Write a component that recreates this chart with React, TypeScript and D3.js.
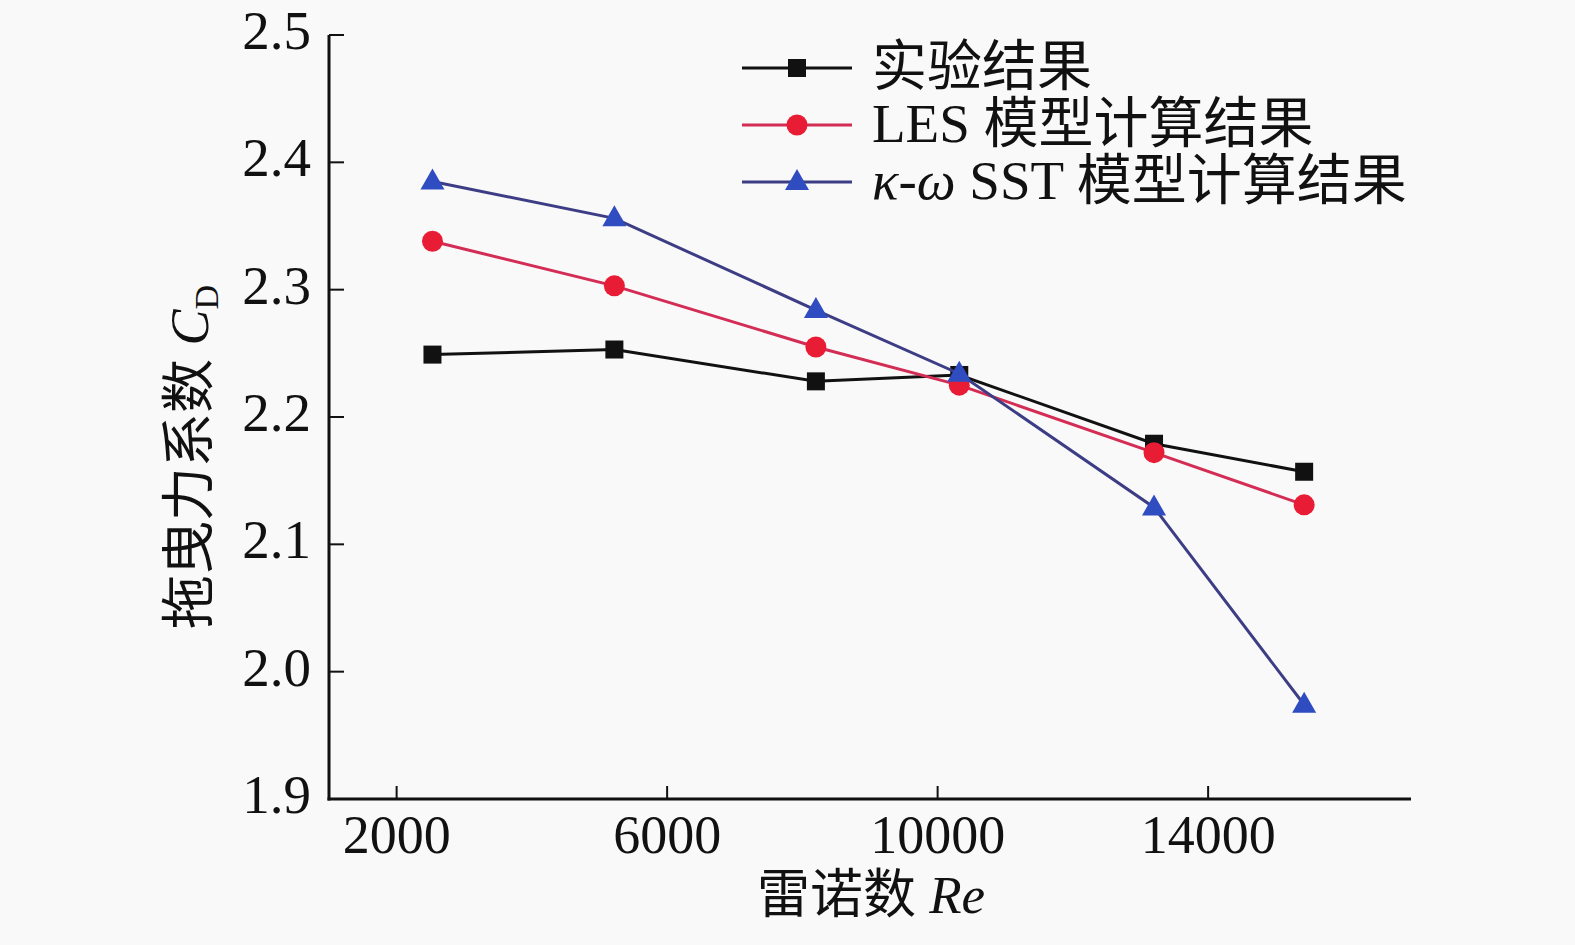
import { line, scaleLinear } from 'd3'

const reynolds = [2530, 5220, 8200, 10320, 13200, 15420]
const experiment = [2.249, 2.253, 2.228, 2.233, 2.179, 2.157]
const les = [2.338, 2.303, 2.255, 2.225, 2.172, 2.131]
const kOmegaSst = [2.385, 2.356, 2.284, 2.234, 2.129, 1.974]

const xTicks = [2000, 6000, 10000, 14000]
const yTicks = [1.9, 2.0, 2.1, 2.2, 2.3, 2.4, 2.5]

const WIDTH = 1575
const HEIGHT = 945
const margin = { left: 329, right: 164, top: 35, bottom: 146 }
const serif = '"Times New Roman", "Liberation Serif", "Noto Sans CJK SC", serif'

const x = scaleLinear()
  .domain([1000, 17000])
  .range([margin.left, WIDTH - margin.right])
const y = scaleLinear()
  .domain([1.9, 2.5])
  .range([HEIGHT - margin.bottom, margin.top])

type Marker = 'square' | 'circle' | 'triangle'

interface Series {
  name: React.ReactNode
  values: number[]
  stroke: string
  fill: string
  marker: Marker
}

const series: Series[] = [
  { name: '实验结果', values: experiment, stroke: '#111111', fill: '#111111', marker: 'square' },
  { name: 'LES 模型计算结果', values: les, stroke: '#d42d55', fill: '#e81c34', marker: 'circle' },
  {
    name: (
      <>
        <tspan fontStyle="italic">κ-ω</tspan> SST 模型计算结果
      </>
    ),
    values: kOmegaSst,
    stroke: '#3d3d86',
    fill: '#2f4cc0',
    marker: 'triangle',
  },
]

function MarkerShape({ kind, cx, cy, fill }: { kind: Marker; cx: number; cy: number; fill: string }) {
  if (kind === 'square') {
    return <rect x={cx - 9} y={cy - 9} width={18} height={18} fill={fill} />
  }
  if (kind === 'circle') {
    return <circle cx={cx} cy={cy} r={10.5} fill={fill} />
  }
  return <path d={`M${cx},${cy - 13} L${cx + 12},${cy + 8} L${cx - 12},${cy + 8} Z`} fill={fill} />
}

export default function App() {
  const path = line<number>()
    .x((_, i) => x(reynolds[i]))
    .y(d => y(d))

  const x0 = margin.left
  const y0 = HEIGHT - margin.bottom

  return (
    <svg
      width={WIDTH}
      height={HEIGHT}
      style={{ position: 'absolute', left: 0, top: 0, background: '#f9f9f9' }}
      fontFamily={serif}
    >
      {/* axes */}
      <line x1={x0} x2={x0} y1={margin.top} y2={y0 + 1.5} stroke="#111" strokeWidth={3} />
      <line x1={x0 - 1.5} x2={WIDTH - margin.right} y1={y0} y2={y0} stroke="#111" strokeWidth={3} />
      {yTicks.map(t => (
        <g key={t}>
          <line x1={x0} x2={x0 + 15} y1={y(t)} y2={y(t)} stroke="#111" strokeWidth={2} />
          <text x={x0 - 18} y={y(t) + 14} textAnchor="end" fontSize={55} fill="#111">
            {t.toFixed(1)}
          </text>
        </g>
      ))}
      {xTicks.map(t => (
        <g key={t}>
          <line x1={x(t)} x2={x(t)} y1={y0} y2={y0 - 13} stroke="#111" strokeWidth={2} />
          <text x={x(t)} y={y0 + 54} textAnchor="middle" fontSize={54} fill="#111">
            {t}
          </text>
        </g>
      ))}

      {/* axis titles */}
      <text x={871} y={913} textAnchor="middle" fontSize={53} fill="#111">
        雷诺数 <tspan fontStyle="italic">Re</tspan>
      </text>
      <text transform="translate(208, 457) rotate(-90)" textAnchor="middle" fontSize={54} fill="#111">
        拖曳力系数 <tspan fontStyle="italic">C</tspan>
        <tspan fontSize={34} dy={10}>
          D
        </tspan>
      </text>

      {/* series */}
      {series.map(s => (
        <g key={s.marker}>
          <path d={path(s.values) ?? ''} fill="none" stroke={s.stroke} strokeWidth={3} />
          {s.values.map((v, i) => (
            <MarkerShape key={i} kind={s.marker} cx={x(reynolds[i])} cy={y(v)} fill={s.fill} />
          ))}
        </g>
      ))}

      {/* legend */}
      {series.map((s, i) => {
        const ly = 68 + i * 57
        return (
          <g key={`legend-${s.marker}`}>
            <line x1={742} x2={852} y1={ly} y2={ly} stroke={s.stroke} strokeWidth={3} />
            <MarkerShape kind={s.marker} cx={797} cy={ly} fill={s.fill} />
            <text x={872} y={ly + 17} fontSize={55} fill="#111">
              {s.name}
            </text>
          </g>
        )
      })}
    </svg>
  )
}
